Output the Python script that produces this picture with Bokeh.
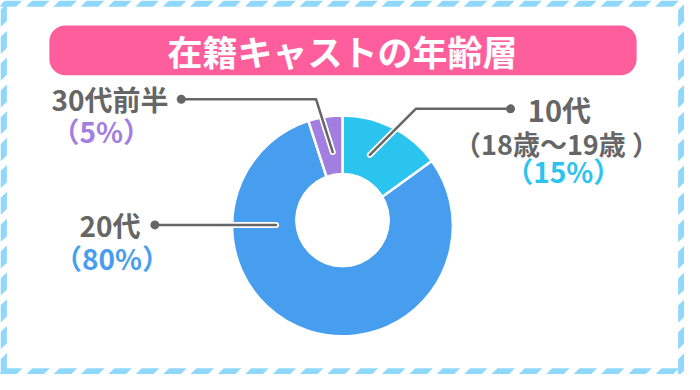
import math
from bokeh.plotting import figure
from bokeh.models import Range1d, BoxAnnotation, ColumnDataSource
from bokeh.core.properties import value
from bokeh.embed import file_html
from bokeh.resources import INLINE

# ---- data ----
categories = ["10代", "20代", "30代前半"]
shares = [15, 80, 5]
pct_labels = ["（15%）", "（80%）", "（5%）"]
sub_labels = ["（18歳〜19歳 ）", "", ""]
title_text = "在籍キャストの年齢層"

# ---- styles / layout (design space = 700 x 390) ----
W, H = 684, 374
DW, DH = 700, 390
slice_colors = ["#2bc4ee", "#489eee", "#a17ee0"]
gray = "#666666"
pink = "#ff5e9c"
stripe = "#8fd8fb"
FONT = value("Noto Sans CJK JP")

cx, cy_ref = 350, 235
r_out = 113
hole_cy_ref, r_in = 229, 48

def Y(y_ref):
    return DH - y_ref

p = figure(width=W, height=H, output_backend="svg", toolbar_location=None,
           x_range=Range1d(0, DW), y_range=Range1d(0, DH),
           min_border=0, background_fill_color="white", border_fill_color="white")
p.axis.visible = False
p.grid.visible = False
p.outline_line_color = None

# ---- striped frame ----
band, sw, pitch = 6.5, 18, 28
xs, ys = [], []
x0, x1, y0, y1 = 0, DW, 0, DH
a = -30
while a < x1 + 30:
    xs.append([a, a + sw, a + sw + band, a + band]); ys.append([y1 - band, y1 - band, y1, y1])
    xs.append([a, a + sw, a + sw + band, a + band]); ys.append([y0, y0, y0 + band, y0 + band])
    a += pitch
b = -30
while b < y1 + 30:
    xs.append([x0, x0, x0 + band, x0 + band]); ys.append([b, b + sw, b + sw + band, b + band])
    xs.append([x1 - band, x1 - band, x1, x1]); ys.append([b, b + sw, b + sw + band, b + band])
    b += pitch
p.patches(xs, ys, fill_color=stripe, line_color=None)

# ---- title ----
p.add_layout(BoxAnnotation(left=50, right=651, top=Y(26), bottom=Y(78),
                           fill_color=pink, fill_alpha=1, line_color=None,
                           border_radius=16, level="underlay"))
p.text(x=[350], y=[Y(52)], text=[title_text], text_font=FONT, text_font_style="bold",
       text_font_size="35px", text_color="white", text_align="center", text_baseline="middle")

# ---- donut ----
total = sum(shares)
starts, ends = [], []
acc = 0
for s in shares:
    starts.append(math.pi / 2 - 2 * math.pi * acc / total)
    acc += s
    ends.append(math.pi / 2 - 2 * math.pi * acc / total)
src = ColumnDataSource(dict(cat=categories, share=shares, start=starts, end=ends, color=slice_colors))
p.wedge(x=cx, y=Y(cy_ref), radius=r_out, start_angle="start", end_angle="end",
        direction="clock", fill_color="color", line_color="white", line_width=2.5, source=src)
p.circle(x=[cx], y=[Y(hole_cy_ref)], radius=r_in, fill_color="white", line_color="white")

# ---- leader lines ----
leader_xs = [[522, 425, 378], [158, 282], [185, 323, 340]]
leader_ys = [[Y(113), Y(113), Y(161)], [Y(234), Y(234)], [Y(103), Y(103), Y(158)]]
p.multi_line(leader_xs, leader_ys, line_color="white", line_width=6, line_cap="round", line_join="round")
p.multi_line(leader_xs, leader_ys, line_color=gray, line_width=2.5, line_cap="round", line_join="round")
p.scatter(x=[l[0] for l in leader_xs], y=[l[0] for l in leader_ys], size=9, fill_color=gray, line_color=None)

# ---- labels ----
name_pos = [(572, 113), (112, 234), (112, 103)]
pct_pos = [(576, 178), (114, 269), (103, 136)]
sub_pos = [(569, 149), None, None]
name_sizes = ["29px", "28px", "28px"]
for i in range(3):
    p.text(x=[name_pos[i][0]], y=[Y(name_pos[i][1])], text=[categories[i]], text_font=FONT,
           text_font_style="bold", text_font_size=name_sizes[i], text_color=gray,
           text_align="center", text_baseline="middle")
    p.text(x=[pct_pos[i][0]], y=[Y(pct_pos[i][1])], text=[pct_labels[i]], text_font=FONT,
           text_font_style="bold", text_font_size="28px", text_color=slice_colors[i],
           text_align="center", text_baseline="middle")
    if sub_labels[i]:
        p.text(x=[sub_pos[i][0]], y=[Y(sub_pos[i][1])], text=[sub_labels[i]], text_font=FONT,
               text_font_style="bold", text_font_size="27px", text_color=gray,
               text_align="center", text_baseline="middle")

open("out.html", "w").write(file_html(p, INLINE))
